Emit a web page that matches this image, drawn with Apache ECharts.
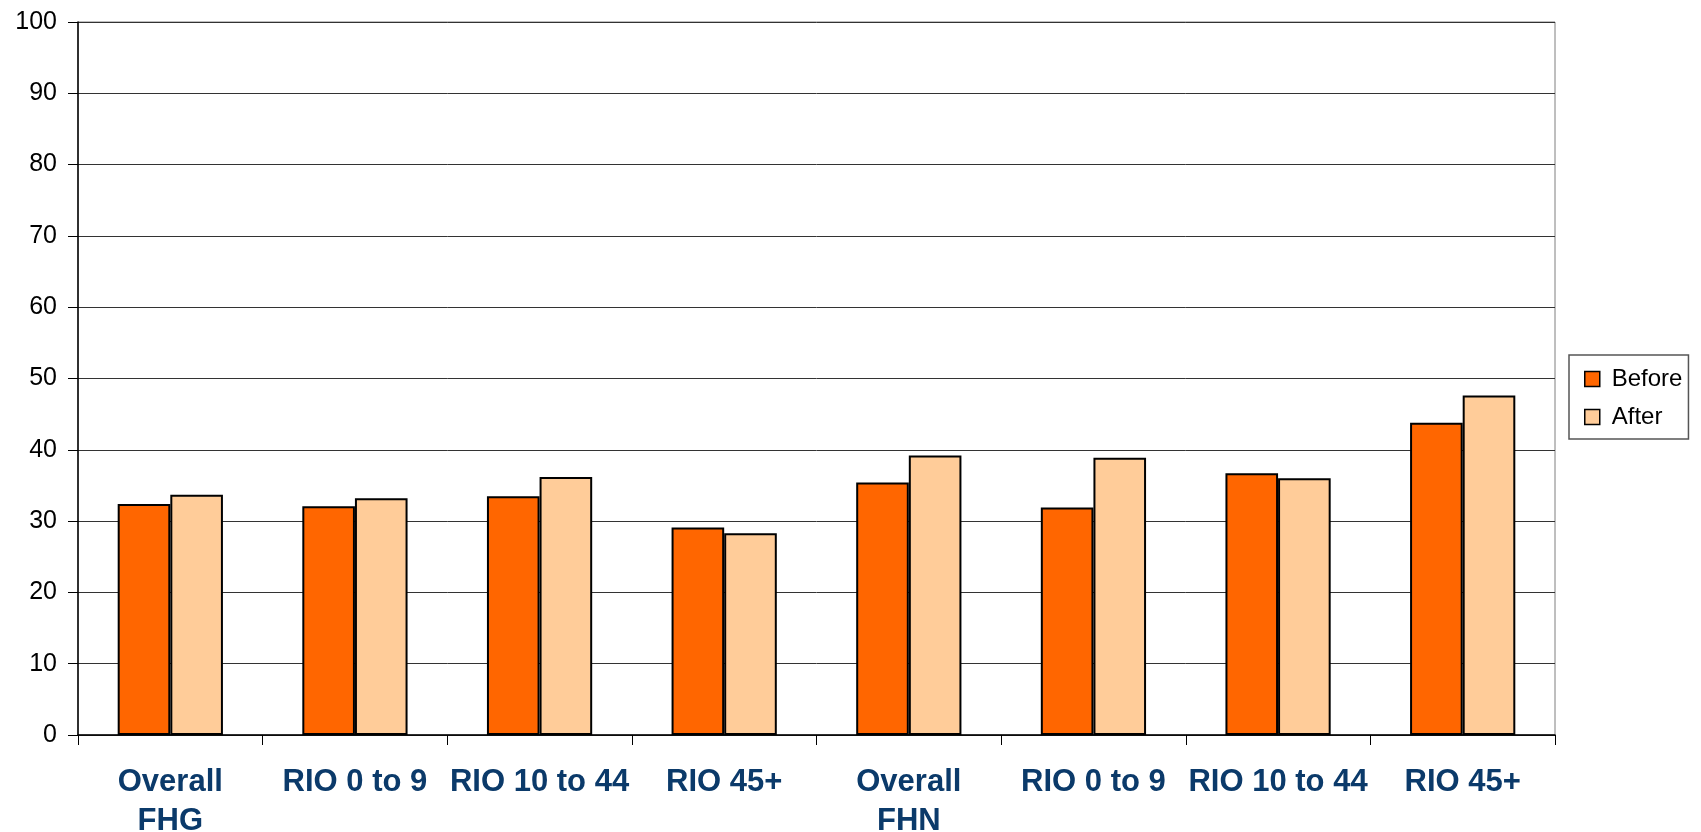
<!DOCTYPE html>
<html>
<head>
<meta charset="utf-8">
<script src="https://cdn.jsdelivr.net/npm/echarts@6/dist/echarts.min.js"></script>
<style>
  html, body { margin: 0; padding: 0; background: #fff; }
  #chart { width: 1701px; height: 832px; }
</style>
</head>
<body>
<div id="chart"></div>
<script>
// Groups along the x axis
const categories = ['Overall\nFHG', 'RIO 0 to 9', 'RIO 10 to 44', 'RIO 45+',
                    'Overall\nFHN', 'RIO 0 to 9', 'RIO 10 to 44', 'RIO 45+'];
// Scores before and after
const beforeValues = [32.4, 32.1, 33.5, 29.1, 35.4, 31.9, 36.7, 43.8];
const afterValues  = [33.7, 33.2, 36.2, 28.3, 39.2, 38.9, 36.0, 47.6];
const seriesNames = ['Before', 'After'];
const yMin = 0, yMax = 100, yStep = 10;

const font = '"Liberation Sans", Arial, Helvetica, sans-serif';
const chart = echarts.init(document.getElementById('chart'), null, { renderer: 'canvas' });

chart.setOption({
  animation: false,
  backgroundColor: '#ffffff',
  grid: {
    left: 78, right: 146, top: 22, bottom: 97,
    outerBoundsMode: 'none',
    containLabel: false,
    show: true, borderColor: '#7f7f7f', borderWidth: 1, backgroundColor: 'transparent'
  },
  legend: {
    orient: 'vertical',
    left: 1569, top: 355,
    padding: [12, 6, 10, 15],
    itemGap: 14,
    itemWidth: 15, itemHeight: 15,
    icon: 'rect',
    borderColor: '#555555', borderWidth: 1.5,
    backgroundColor: '#ffffff',
    itemStyle: { borderColor: '#000', borderWidth: 1.5 },
    textStyle: { fontFamily: font, fontSize: 24, color: '#000', padding: [0, 0, 0, 7] },
    data: seriesNames
  },
  xAxis: {
    type: 'category',
    data: categories,
    axisLine: { lineStyle: { color: '#000', width: 1.5 } },
    axisTick: { show: true, length: 10, lineStyle: { color: '#000', width: 1 } },
    axisLabel: {
      interval: 0,
      margin: 28,
      fontFamily: font, fontSize: 31, fontWeight: 'bold',
      color: '#0b3a6a', lineHeight: 39, align: 'center'
    },
    splitLine: { show: false }
  },
  yAxis: {
    type: 'value',
    min: yMin, max: yMax, interval: yStep,
    axisLine: { show: true, lineStyle: { color: '#000', width: 1.5 } },
    axisTick: { show: true, length: 10, lineStyle: { color: '#000', width: 1 } },
    axisLabel: { margin: 21, fontFamily: font, fontSize: 25, color: '#000' },
    splitLine: { show: true, lineStyle: { color: '#333333', width: 1 } }
  },
  series: [
    {
      name: seriesNames[0], type: 'bar', data: beforeValues,
      barGap: '0%', barCategoryGap: '43%',
      itemStyle: { color: '#ff6600', borderColor: '#000', borderWidth: 2 }
    },
    {
      name: seriesNames[1], type: 'bar', data: afterValues,
      barGap: '0%', barCategoryGap: '43%',
      itemStyle: { color: '#ffcc99', borderColor: '#000', borderWidth: 2 }
    }
  ]
});
</script>
</body>
</html>
